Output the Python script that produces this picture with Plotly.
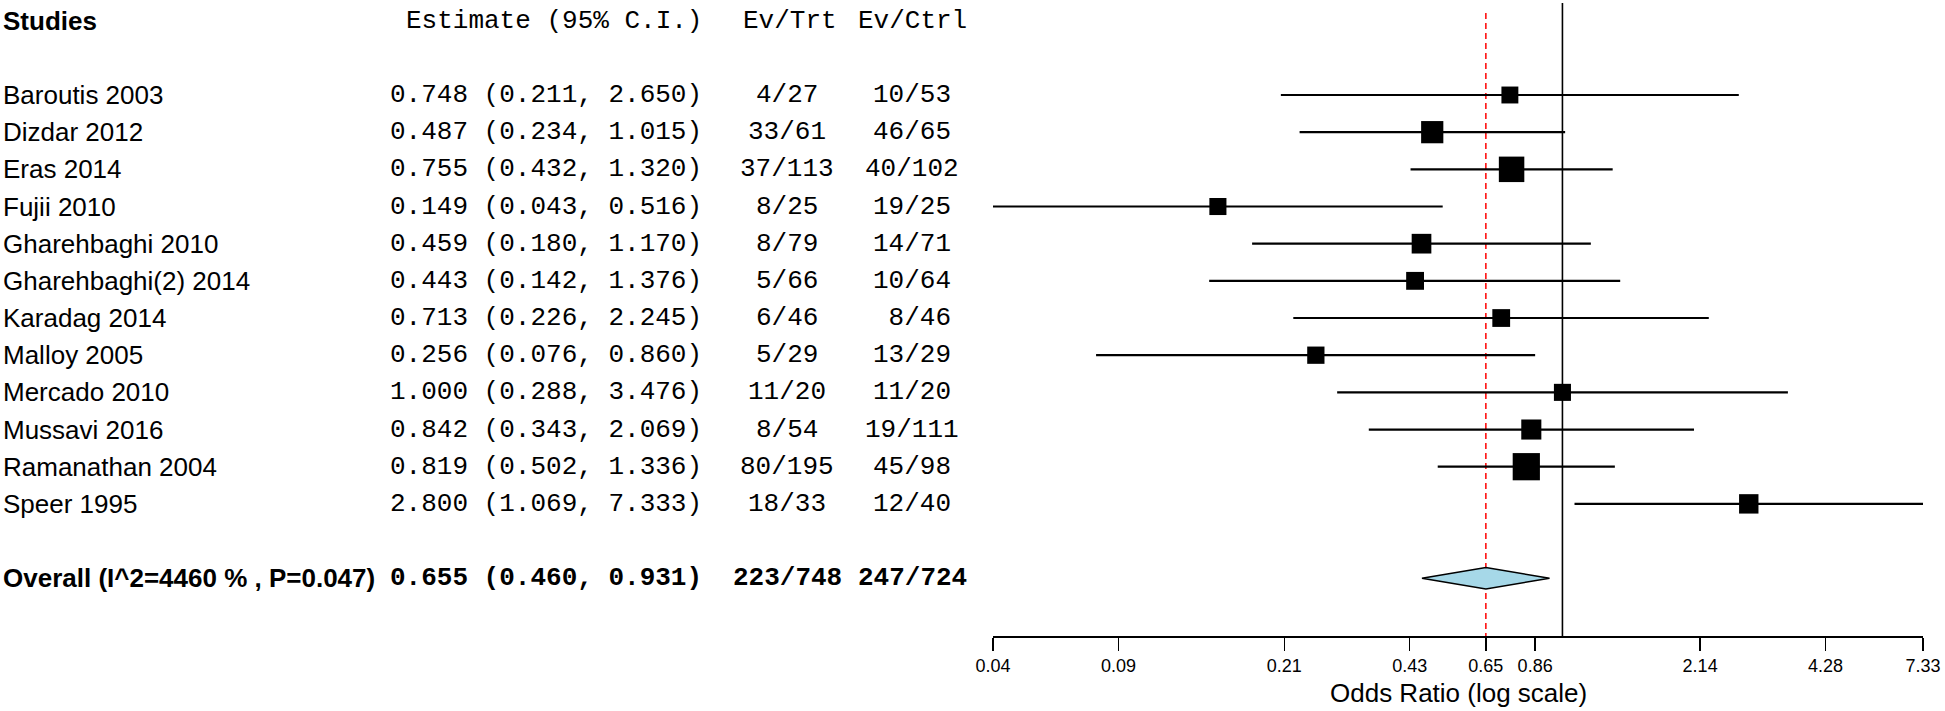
import math
import plotly.graph_objects as go

# ---------------- data ----------------
studies = ["Baroutis 2003", "Dizdar 2012", "Eras 2014", "Fujii 2010", "Gharehbaghi 2010",
           "Gharehbaghi(2) 2014", "Karadag 2014", "Malloy 2005", "Mercado 2010",
           "Mussavi 2016", "Ramanathan 2004", "Speer 1995"]
estimates = [0.748, 0.487, 0.755, 0.149, 0.459, 0.443, 0.713, 0.256, 1.000, 0.842, 0.819, 2.800]
ci_lower = [0.211, 0.234, 0.432, 0.043, 0.180, 0.142, 0.226, 0.076, 0.288, 0.343, 0.502, 1.069]
ci_upper = [2.650, 1.015, 1.320, 0.516, 1.170, 1.376, 2.245, 0.860, 3.476, 2.069, 1.336, 7.333]
ev_trt = ["4/27", "33/61", "37/113", "8/25", "8/79", "5/66", "6/46", "5/29", "11/20", "8/54", "80/195", "18/33"]
ev_ctrl = ["10/53", "46/65", "40/102", "19/25", "14/71", "10/64", "8/46", "13/29", "11/20", "19/111", "45/98", "12/40"]

overall_label = "Overall (I^2=4460 % , P=0.047)"
overall_est = 0.655
overall_lower = 0.460
overall_upper = 0.931
overall_trt = "223/748"
overall_ctrl = "247/724"

header_labels = ["Studies", "Estimate (95% C.I.)", "Ev/Trt", "Ev/Ctrl"]
tick_values = [0.043, 0.086, 0.215, 0.43, 0.655, 0.86, 2.14, 4.28, 7.333]
tick_labels = ["0.04", "0.09", "0.21", "0.43", "0.65", "0.86", "2.14", "4.28", "7.33"]
axis_title = "Odds Ratio (log scale)"

# ---------------- layout constants ----------------
W, H = 1945, 711
TOP_PX, AXIS_PX = 3, 636
ROW1_PX, ROW_STEP = 95, 37.17
X_LEFT_PX, X_RIGHT_PX = 993, 1923

def px_to_row(px):
    return 1 + (px - ROW1_PX) / ROW_STEP

def px_x(px):
    return px / W

SANS = "Liberation Sans, Arial, Helvetica, sans-serif"
MONO = "Liberation Mono, Courier New, monospace"
NARROW = "Liberation Sans Narrow, Arial Narrow, Liberation Sans, sans-serif"
FS_SANS = 26
FS_MONO = 26

EST_X, TRT_X, CTRL_X = 704, 787, 912
TRT_HDR_X, CTRL_HDR_X = 790, 912

rows = list(range(1, len(studies) + 1))
overall_row = len(studies) + 2
header_row = -1

fig = go.Figure()

# CI lines
cx, cy = [], []
for lo, hi, r in zip(ci_lower, ci_upper, rows):
    cx += [lo, hi, None]
    cy += [r, r, None]
fig.add_trace(go.Scatter(x=cx, y=cy, mode="lines", line=dict(color="black", width=2.2),
                         hoverinfo="skip", showlegend=False, cliponaxis=False))

# boxes (size from precision of each estimate)
sizes = []
for lo, hi in zip(ci_lower, ci_upper):
    se = (math.log(hi) - math.log(lo)) / (2 * 1.96)
    sizes.append(13.6 * math.sqrt(1 / se))
fig.add_trace(go.Scatter(x=estimates, y=rows, mode="markers",
                         marker=dict(symbol="square", size=sizes, color="#000000", opacity=1,
                                     line=dict(width=0)),
                         showlegend=False, cliponaxis=False))

# diamond
dh = 0.29
fig.add_trace(go.Scatter(x=[overall_lower, overall_est, overall_upper, overall_est, overall_lower],
                         y=[overall_row, overall_row - dh, overall_row, overall_row + dh, overall_row],
                         mode="lines", fill="toself", fillcolor="#A6D8E8",
                         line=dict(color="black", width=1.5), showlegend=False))

# reference lines
fig.add_shape(type="line", xref="x", yref="paper", x0=1, x1=1, y0=0, y1=1,
              line=dict(color="black", width=1.6), layer="below")
fig.add_shape(type="line", xref="x", yref="y", x0=overall_est, x1=overall_est,
              y0=px_to_row(13), y1=px_to_row(AXIS_PX),
              line=dict(color="red", width=1.5, dash="6px,4px"), layer="below")

# text columns
ann = []
def add_text(text, xpx, row, anchor, font, size, bold=False):
    if bold:
        text = "<b>" + text + "</b>"
    ann.append(dict(text=text, x=px_x(xpx), xref="paper", y=row, yref="y",
                    xanchor=anchor, yanchor="middle", showarrow=False,
                    font=dict(family=font, size=size, color="black")))

add_text(header_labels[0], 1, header_row, "left", SANS, FS_SANS, bold=True)
add_text(header_labels[1], EST_X, header_row, "right", MONO, FS_MONO)
add_text(header_labels[2], TRT_HDR_X, header_row, "center", MONO, FS_MONO)
add_text(header_labels[3], CTRL_HDR_X, header_row, "center", MONO, FS_MONO)

for name, est, lo, hi, et, ec, r in zip(studies, estimates, ci_lower, ci_upper, ev_trt, ev_ctrl, rows):
    add_text(name, 1, r, "left", SANS, FS_SANS)
    add_text(f"{est:.3f} ({lo:.3f}, {hi:.3f})", EST_X, r, "right", MONO, FS_MONO)
    add_text(et.rjust(4, "\u00a0"), TRT_X, r, "center", MONO, FS_MONO)
    add_text(ec.rjust(5, "\u00a0"), CTRL_X, r, "center", MONO, FS_MONO)

add_text(overall_label, 1, overall_row, "left", SANS, FS_SANS, bold=True)
add_text(f"{overall_est:.3f} ({overall_lower:.3f}, {overall_upper:.3f})", EST_X, overall_row,
         "right", MONO, FS_MONO, bold=True)
add_text(overall_trt, TRT_X, overall_row, "center", MONO, FS_MONO, bold=True)
add_text(overall_ctrl, CTRL_X, overall_row, "center", MONO, FS_MONO, bold=True)

# axis title
plot_h = AXIS_PX - TOP_PX
ann.append(dict(text=axis_title, x=(X_LEFT_PX + X_RIGHT_PX) / 2 / W, xref="paper",
                y=-(693 - AXIS_PX) / plot_h, yref="paper", xanchor="center", yanchor="middle",
                showarrow=False, font=dict(family=SANS, size=FS_SANS, color="black")))

fig.update_layout(
    width=W, height=H,
    margin=dict(l=0, r=0, t=TOP_PX, b=H - AXIS_PX, pad=0, autoexpand=False),
    paper_bgcolor="white", plot_bgcolor="white",
    showlegend=False,
    annotations=ann,
    xaxis=dict(type="log", domain=[X_LEFT_PX / W, X_RIGHT_PX / W],
               range=[math.log10(min(ci_lower)), math.log10(max(ci_upper))],
               showgrid=False, zeroline=False, showline=True, linecolor="black", linewidth=1.5,
               ticks="outside", ticklen=13, tickwidth=1.5, tickcolor="black",
               tickvals=tick_values, ticktext=tick_labels, automargin=False,
               tickfont=dict(family=NARROW, size=18, color="black")),
    yaxis=dict(range=[px_to_row(AXIS_PX), px_to_row(TOP_PX)], visible=False,
               showgrid=False, zeroline=False, automargin=False),
)

fig.write_html("out.html", config={"displayModeBar": False, "staticPlot": True},
               post_script="document.body.style.margin='0px';document.body.style.overflow='hidden';")
